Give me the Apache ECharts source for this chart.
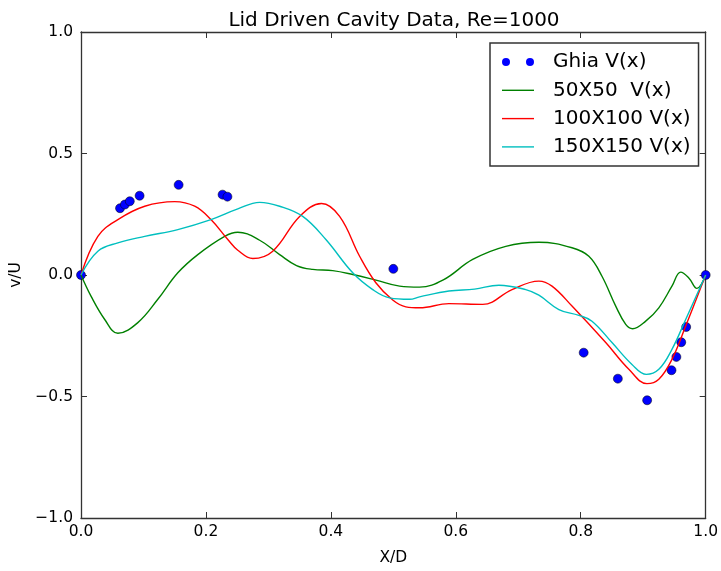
<!DOCTYPE html>
<html>
<head>
<meta charset="utf-8">
<script src="https://cdn.jsdelivr.net/npm/echarts@6/dist/echarts.min.js"></script>
<style>
  body { margin: 0; background: #fff; }
  #main { width: 721px; height: 571px; }
</style>
</head>
<body>
<div id="main"></div>
<script>
// Ghia et al. reference points, v along horizontal centreline
var ghiaX = [0, 0.0625, 0.0703, 0.0781, 0.0938, 0.1563, 0.2266, 0.2344, 0.5, 0.8047, 0.8594, 0.9063, 0.9453, 0.9531, 0.9609, 0.9688, 1.0];
var ghiaV = [0, 0.27485, 0.29012, 0.30353, 0.32627, 0.37095, 0.33075, 0.32235, 0.02526, -0.31966, -0.42665, -0.51550, -0.39188, -0.33714, -0.27669, -0.21388, 0];

// 50x50 grid
var g50X = [0, 0.016, 0.038, 0.059, 0.091, 0.123, 0.155, 0.187, 0.23, 0.251, 0.286, 0.318, 0.345, 0.371, 0.403, 0.435, 0.472, 0.51, 0.542, 0.58, 0.627, 0.68, 0.733, 0.786, 0.813, 0.834, 0.856, 0.872, 0.883, 0.904, 0.925, 0.946, 0.96, 0.973, 0.986, 1.0];
var g50V = [0, -0.087, -0.183, -0.24, -0.196, -0.1, 0.009, 0.084, 0.159, 0.176, 0.143, 0.084, 0.039, 0.023, 0.018, 0.002, -0.021, -0.046, -0.05, -0.02, 0.064, 0.118, 0.135, 0.112, 0.077, -0.005, -0.128, -0.203, -0.221, -0.19, -0.135, -0.046, 0.012, -0.012, -0.055, 0.0];

// 100x100 grid
var g100X = [0, 0.027, 0.059, 0.102, 0.15, 0.182, 0.208, 0.235, 0.251, 0.275, 0.307, 0.35, 0.385, 0.414, 0.446, 0.472, 0.499, 0.52, 0.542, 0.589, 0.643, 0.69, 0.733, 0.754, 0.786, 0.84, 0.877, 0.906, 0.925, 0.946, 0.968, 1.0];
var g100V = [0, 0.159, 0.228, 0.283, 0.302, 0.283, 0.228, 0.146, 0.102, 0.068, 0.098, 0.241, 0.294, 0.241, 0.077, -0.032, -0.103, -0.131, -0.135, -0.118, -0.121, -0.06, -0.025, -0.046, -0.128, -0.278, -0.388, -0.447, -0.429, -0.347, -0.21, 0.0];

// 150x150 grid
var g150X = [0, 0.027, 0.059, 0.102, 0.155, 0.208, 0.251, 0.286, 0.318, 0.355, 0.392, 0.435, 0.467, 0.494, 0.526, 0.542, 0.589, 0.63, 0.669, 0.712, 0.733, 0.765, 0.797, 0.818, 0.85, 0.882, 0.905, 0.925, 0.946, 0.968, 1.0];
var g150V = [0, 0.098, 0.132, 0.159, 0.187, 0.228, 0.272, 0.299, 0.283, 0.241, 0.146, 0.009, -0.06, -0.094, -0.1, -0.09, -0.066, -0.058, -0.042, -0.06, -0.083, -0.142, -0.166, -0.19, -0.278, -0.368, -0.409, -0.388, -0.306, -0.183, 0.0];

var names = ['Ghia V(x)', '50X50  V(x)', '100X100 V(x)', '150X150 V(x)'];

function pairs(xs, ys) {
    var out = [];
    for (var i = 0; i < xs.length; i++) out.push([xs[i], ys[i]]);
    return out;
}

var font = 'DejaVu Sans';
var frame = { show: true, onZero: false, lineStyle: { color: '#333', width: 1.3 } };
var ticks = { show: true, inside: true, length: 6, lineStyle: { color: '#333', width: 1 } };
function fmt(v) { return v.toFixed(1).replace('-', '\u2212'); }

// legend icons: two dots for the markers, a short thin line for the curves
var dotsIcon = 'path://M0,4a4,4 0 1,0 8,0a4,4 0 1,0 -8,0M24,4a4,4 0 1,0 8,0a4,4 0 1,0 -8,0';
var lineIcon = 'path://M0,0M0,3.3H32V4.7H0ZM32,8';

var chart = echarts.init(document.getElementById('main'));
chart.setOption({
    animation: false,
    title: {
        text: 'Lid Driven Cavity Data, Re=1000',
        left: 394, top: 11, padding: 0, textAlign: 'center',
        textStyle: { fontFamily: font, fontSize: 20, fontWeight: 'normal', color: '#000' }
    },
    grid: { left: 81, right: 14, top: 32, bottom: 52 },
    legend: {
        orient: 'vertical', left: 490, top: 43,
        padding: [9, 8, 9, 12], itemGap: 8.3,
        itemWidth: 32, itemHeight: 8,
        borderColor: '#333', borderWidth: 1.5,
        backgroundColor: '#fff',
        data: [
            { name: names[0], icon: dotsIcon, itemStyle: { borderWidth: 0 } },
            { name: names[1], icon: lineIcon },
            { name: names[2], icon: lineIcon },
            { name: names[3], icon: lineIcon }
        ],
        textStyle: { fontFamily: font, fontSize: 20, color: '#000', lineHeight: 20, padding: [0, 0, 0, 14] }
    },
    xAxis: [{
        type: 'value', min: 0, max: 1, interval: 0.2, position: 'bottom',
        name: 'X/D', nameLocation: 'middle', nameGap: 32,
        nameTextStyle: { fontFamily: font, fontSize: 15.5, color: '#000' },
        axisLine: frame, axisTick: ticks, splitLine: { show: false },
        axisLabel: { fontFamily: font, fontSize: 15.5, color: '#000', margin: 6, formatter: fmt }
    }, {
        type: 'value', min: 0, max: 1, interval: 0.2, position: 'top',
        axisLine: frame, axisTick: ticks, splitLine: { show: false }, axisLabel: { show: false }
    }],
    yAxis: [{
        type: 'value', min: -1, max: 1, interval: 0.5, position: 'left',
        name: 'v/U', nameLocation: 'middle', nameGap: 51, nameRotate: 90,
        nameTextStyle: { fontFamily: font, fontSize: 15.5, color: '#000' },
        axisLine: frame, axisTick: ticks, splitLine: { show: false },
        axisLabel: { fontFamily: font, fontSize: 15.5, color: '#000', margin: 8, formatter: fmt }
    }, {
        type: 'value', min: -1, max: 1, interval: 0.5, position: 'right',
        axisLine: frame, axisTick: ticks, splitLine: { show: false }, axisLabel: { show: false }
    }],
    series: [{
        name: names[0], type: 'scatter', symbolSize: 9,
        itemStyle: { color: '#0000ff', opacity: 1, borderColor: '#000', borderWidth: 0.5 },
        data: pairs(ghiaX, ghiaV)
    }, {
        name: names[1], type: 'line', smooth: 0.4, showSymbol: false, symbol: 'none',
        itemStyle: { color: '#008000' }, lineStyle: { color: '#008000', width: 1.4 },
        data: pairs(g50X, g50V)
    }, {
        name: names[2], type: 'line', smooth: 0.4, showSymbol: false, symbol: 'none',
        itemStyle: { color: '#ff0000' }, lineStyle: { color: '#ff0000', width: 1.4 },
        data: pairs(g100X, g100V)
    }, {
        name: names[3], type: 'line', smooth: 0.4, showSymbol: false, symbol: 'none',
        itemStyle: { color: '#00bfbf' }, lineStyle: { color: '#00bfbf', width: 1.4 },
        data: pairs(g150X, g150V)
    }]
});
</script>
</body>
</html>
